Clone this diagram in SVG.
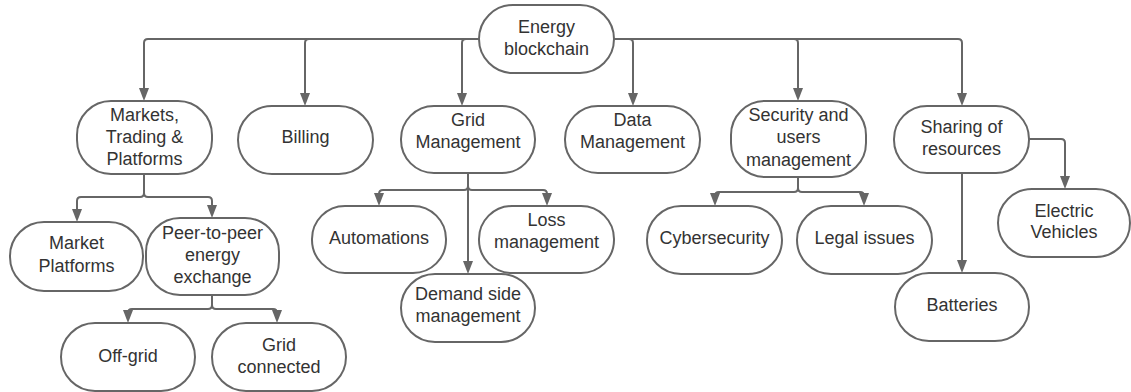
<svg xmlns="http://www.w3.org/2000/svg" width="1131" height="392" viewBox="0 0 1131 392">
<style>
.n rect{fill:#fff;stroke:#666;stroke-width:2}
.n text{font-family:"Liberation Sans",Arial,sans-serif;font-size:18px;fill:#333;text-anchor:middle}
.c path{fill:none;stroke:#666;stroke-width:2;marker-end:url(#ah)}
</style>
<defs>
<marker id="ah" viewBox="0 0 13 10" refX="5" refY="5" markerWidth="13" markerHeight="10" markerUnits="userSpaceOnUse" orient="auto">
<path d="M0,0 L13,5 L0,10 z" fill="#666"/>
</marker>
</defs>
<rect width="1131" height="392" fill="#fff"/>
<g id="connectors" class="c">
<path d="M479,39 H148 Q144,39 144,43 V93"/>
<path d="M479,39 H309 Q305,39 305,43 V98"/>
<path d="M479,39 H466 Q462,39 462,43 V98"/>
<path d="M614,39 H629 Q633,39 633,43 V98"/>
<path d="M614,39 H794 Q798,39 798,43 V93"/>
<path d="M614,39 H958 Q962,39 962,43 V98"/>
<path d="M144,174 V193 Q144,197 140,197 H81 Q77,197 77,201 V214"/>
<path d="M144,174 V193 Q144,197 148,197 H208 Q212,197 212,201 V210"/>
<path d="M212,295 V305 Q212,309 208,309 H132 Q128,309 128,313 V315"/>
<path d="M212,295 V305 Q212,309 216,309 H273 Q277,309 277,313 V315"/>
<path d="M468,173 V186 Q468,190 464,190 H383 Q379,190 379,194 V198"/>
<path d="M468,173 V186 Q468,190 472,190 H543 Q547,190 547,194 V198"/>
<path d="M468,173 V266"/>
<path d="M798,177 V188 Q798,192 794,192 H719 Q715,192 715,196 V198"/>
<path d="M798,177 V188 Q798,192 802,192 H860 Q864,192 864,196 V198"/>
<path d="M962,173 V265"/>
<path d="M1029,139 H1061 Q1065,139 1065,143 V181"/>
</g>
<g id="root" class="n"><rect x="479" y="5" width="135" height="68" rx="34"/><text x="546.5" y="33">Energy</text><text x="546.5" y="55">blockchain</text></g>
<g id="markets" class="n"><rect x="77" y="101" width="135" height="73" rx="34"/><text x="144.5" y="121">Markets,</text><text x="144.5" y="143">Trading &amp;</text><text x="144.5" y="165">Platforms</text></g>
<g id="billing" class="n"><rect x="238" y="106" width="135" height="68" rx="34"/><text x="305.5" y="143">Billing</text></g>
<g id="grid" class="n"><rect x="401" y="106" width="134" height="67" rx="33"/><text x="468" y="126">Grid</text><text x="468" y="148">Management</text></g>
<g id="data" class="n"><rect x="565" y="106" width="135" height="67" rx="33"/><text x="632.5" y="126">Data</text><text x="632.5" y="148">Management</text></g>
<g id="security" class="n"><rect x="731" y="101" width="135" height="76" rx="34"/><text x="798.5" y="121">Security and</text><text x="798.5" y="143">users</text><text x="798.5" y="166">management</text></g>
<g id="sharing" class="n"><rect x="894" y="106" width="135" height="67" rx="33"/><text x="961.5" y="133">Sharing of</text><text x="961.5" y="155">resources</text></g>
<g id="ev" class="n"><rect x="998" y="189" width="132" height="68" rx="34"/><text x="1064" y="217">Electric</text><text x="1064" y="238">Vehicles</text></g>
<g id="batteries" class="n"><rect x="895" y="273" width="134" height="68" rx="34"/><text x="962" y="311">Batteries</text></g>
<g id="cyber" class="n"><rect x="647" y="206" width="135" height="68" rx="34"/><text x="714.5" y="244">Cybersecurity</text></g>
<g id="legal" class="n"><rect x="797" y="206" width="135" height="68" rx="34"/><text x="864.5" y="244">Legal issues</text></g>
<g id="marketplatforms" class="n"><rect x="10" y="222" width="133" height="69" rx="34"/><text x="76.5" y="249">Market</text><text x="76.5" y="272">Platforms</text></g>
<g id="p2p" class="n"><rect x="146" y="218" width="133" height="77" rx="34"/><text x="212.5" y="239">Peer-to-peer</text><text x="212.5" y="261">energy</text><text x="212.5" y="283">exchange</text></g>
<g id="offgrid" class="n"><rect x="61" y="323" width="134" height="68" rx="34"/><text x="128" y="362">Off-grid</text></g>
<g id="gridconnected" class="n"><rect x="212" y="323" width="134" height="68" rx="34"/><text x="279" y="351">Grid</text><text x="279" y="373">connected</text></g>
<g id="automations" class="n"><rect x="312" y="206" width="134" height="67" rx="33"/><text x="379" y="244">Automations</text></g>
<g id="loss" class="n"><rect x="479" y="206" width="135" height="67" rx="33"/><text x="546.5" y="226">Loss</text><text x="546.5" y="248">management</text></g>
<g id="demand" class="n"><rect x="401" y="274" width="134" height="68" rx="34"/><text x="468" y="300">Demand side</text><text x="468" y="322">management</text></g>
</svg>
